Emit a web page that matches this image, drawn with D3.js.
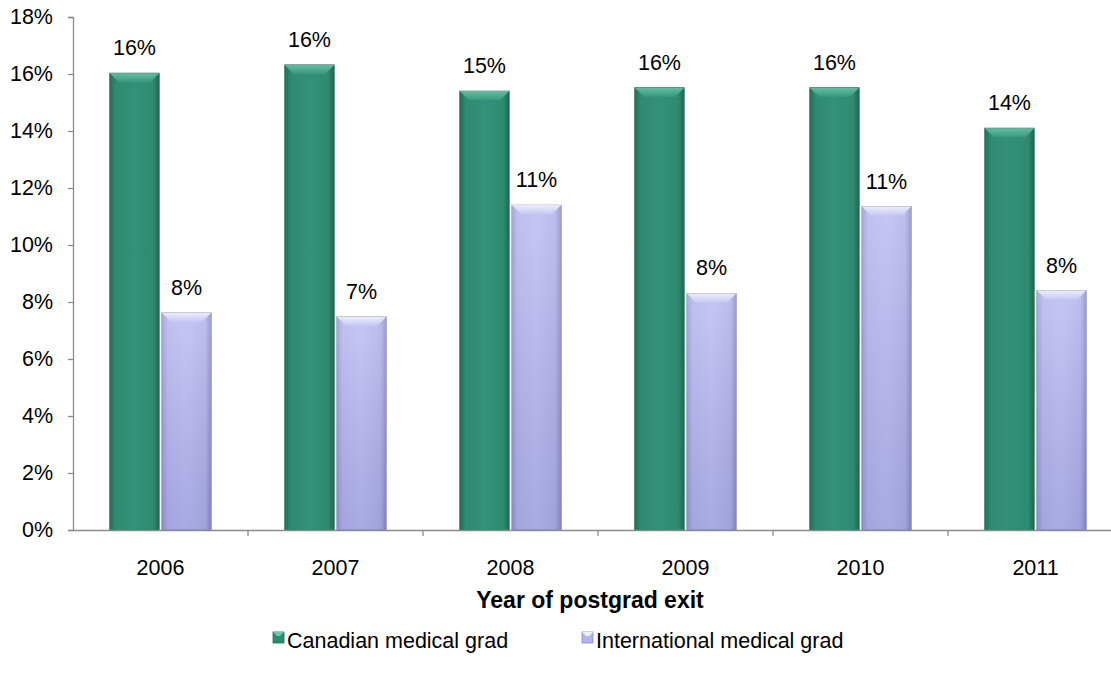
<!DOCTYPE html>
<html>
<head>
<meta charset="utf-8">
<script src="https://cdn.jsdelivr.net/npm/d3@7"></script>
<style>
  body { margin: 0; background: #fff; }
  svg text { font-family: "Liberation Sans", Arial, sans-serif; fill: #000; }
</style>
</head>
<body>
<div id="chart"></div>
<script>
// data
var years = ["2006", "2007", "2008", "2009", "2010", "2011"];
var seriesNames = ["Canadian medical grad", "International medical grad"];
var canadian = [0.1603, 0.1632, 0.154, 0.1552, 0.1552, 0.141];
var international = [0.0762, 0.0748, 0.114, 0.083, 0.1135, 0.084];
var yTicks = [0, 0.02, 0.04, 0.06, 0.08, 0.10, 0.12, 0.14, 0.16, 0.18];

var W = 1111, H = 675;
var mLeft = 73, mRight = 1123, mTop = 17, mBottom = 530;
var fs = "21.5px";

var svg = d3.select("#chart").append("svg")
  .attr("width", W).attr("height", H);

var defs = svg.append("defs");
function grad(id, stops, vertical) {
  var g = defs.append("linearGradient").attr("id", id)
    .attr("x1", 0).attr("y1", 0)
    .attr("x2", vertical ? 0 : 1).attr("y2", vertical ? 1 : 0);
  stops.forEach(function(s){
    g.append("stop").attr("offset", s[0]).attr("stop-color", s[1]);
  });
}
// horizontal shading (dark edges) for each series
grad("gGreen", [[0, "#22705a"], [0.12, "#2f8a70"], [0.5, "#33907a"], [0.88, "#2f8a70"], [1, "#1f6652"]]);
grad("gPurple", [[0, "#9a9ad0"], [0.12, "#b6b6ee"], [0.5, "#bcbcf4"], [0.88, "#b2b2ea"], [1, "#8e8ec4"]]);
grad("vPurple", [[0, "rgba(255,255,255,0.15)"], [1, "rgba(40,40,110,0.12)"]], true);
grad("bGreen", [[0, "#6cc8aa"], [1, "#3a9a7e"]], true);
grad("bPurple", [[0, "#f4f4ff"], [1, "#c8c8f6"]], true);

var colors = ["url(#gGreen)", "url(#gPurple)"];
var bevel = ["url(#bGreen)", "url(#bPurple)"];
var legendCol = ["#2f8a70", "#b4b4ec"];

var x = d3.scaleBand().domain(years).range([mLeft, mRight]).paddingInner(0.42).paddingOuter(0.21);
var xs = d3.scaleBand().domain([0, 1]).range([0, x.bandwidth()]).paddingInner(0.05);
var xAxisScale = d3.scaleBand().domain(years).range([mLeft, mRight]);
var y = d3.scaleLinear().domain([0, 0.18]).range([mBottom, mTop]);

// y axis
var yAxis = svg.append("g").attr("transform", "translate(" + mLeft + ",0)")
  .call(d3.axisLeft(y).tickValues(yTicks).tickFormat(d3.format(".0%")).tickSize(5).tickPadding(15));
yAxis.select(".domain").attr("stroke", "#8c8c8c").attr("stroke-width", 1.3);
yAxis.selectAll(".tick line").attr("stroke", "#8c8c8c").attr("stroke-width", 1.3);
yAxis.selectAll("text").style("font-size", fs).attr("fill", "#000");

// bars
var data = [canadian, international];
data.forEach(function(vals, si){
  var g = svg.append("g");
  years.forEach(function(yr, i){
    var bx = x(yr) + xs(si), bw = xs.bandwidth();
    var by = y(vals[i]), bh = mBottom - by;
    g.append("rect").attr("x", bx).attr("y", by).attr("width", bw).attr("height", bh)
      .attr("fill", colors[si]).attr("stroke", si === 0 ? "#256e5a" : "#9090c0").attr("stroke-width", 0.8);
    if (si === 1) g.append("rect").attr("x", bx).attr("y", by).attr("width", bw).attr("height", bh)
      .attr("fill", "url(#vPurple)");
    // top bevel
    var b = 9;
    g.append("path")
      .attr("d", "M" + bx + "," + by + "L" + (bx + bw) + "," + by + "L" + (bx + bw - b) + "," + (by + b) + "L" + (bx + b) + "," + (by + b) + "Z")
      .attr("fill", bevel[si]).attr("opacity", 0.85);
    g.append("text").attr("x", bx + bw / 2).attr("y", by - 18)
      .attr("text-anchor", "middle").style("font-size", fs)
      .text(d3.format(".0%")(vals[i]));
  });
});

// x axis
var xAxis = svg.append("g").attr("transform", "translate(0," + mBottom + ")")
  .call(d3.axisBottom(xAxisScale).tickSize(0).tickPadding(30));
xAxis.select(".domain").attr("stroke", "#8c8c8c").attr("stroke-width", 1.3);
xAxis.selectAll("text").style("font-size", fs).attr("fill", "#000");
svg.append("g").selectAll("line").data(years.slice(1)).enter().append("line")
  .attr("x1", function(d){ return xAxisScale(d); }).attr("x2", function(d){ return xAxisScale(d); })
  .attr("y1", mBottom).attr("y2", mBottom + 6)
  .attr("stroke", "#8c8c8c").attr("stroke-width", 1.3);

svg.append("text").attr("x", 590).attr("y", 608).attr("text-anchor", "middle")
  .style("font-size", "23px").style("font-weight", "bold").text("Year of postgrad exit");

// legend
var legX = [273, 582];
seriesNames.forEach(function(name, i){
  var lg = svg.append("g").attr("transform", "translate(" + legX[i] + ",632)");
  lg.append("rect").attr("width", 11).attr("height", 11).attr("fill", legendCol[i])
    .attr("stroke", i === 0 ? "#256e5a" : "#8a8ac0").attr("stroke-width", 0.8);
  lg.append("path").attr("d", "M0,0L11,0L7,4L4,4Z").attr("fill", i === 0 ? "#6cc8aa" : "#f0f0ff");
  lg.append("text").attr("x", 14).attr("y", 16).style("font-size", fs).text(name);
});
</script>
</body>
</html>
